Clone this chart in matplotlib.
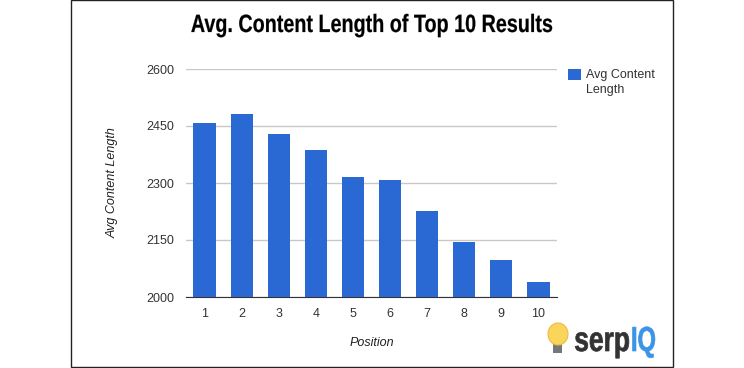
import matplotlib
matplotlib.use('Agg')
import matplotlib.pyplot as plt
from matplotlib.patches import Rectangle, Ellipse
from matplotlib.patheffects import AbstractPathEffect
from matplotlib.transforms import Affine2D

positions = ['1', '2', '3', '4', '5', '6', '7', '8', '9', '10']
avg_length = [2458, 2481, 2430, 2388, 2317, 2309, 2227, 2146, 2098, 2040]
y_ticks = [2000, 2150, 2300, 2450, 2600]

W, H = 744, 368
plt.rcParams['font.family'] = ['Liberation Sans', 'DejaVu Sans']


class Squeeze(AbstractPathEffect):
    """no condensed font installed, so narrow the glyphs around x0 (pixels)"""
    def __init__(self, sx, x0, lw=0):
        super().__init__()
        self.sx, self.x0, self.lw = sx, x0, lw

    def draw_path(self, renderer, gc, tpath, affine, rgbFace=None):
        squeeze = Affine2D().translate(-self.x0, 0).scale(self.sx, 1).translate(self.x0, 0)
        gc0 = renderer.new_gc()
        gc0.copy_properties(gc)
        gc0.set_linewidth(self.lw)
        gc0.set_foreground(rgbFace)
        renderer.draw_path(gc0, tpath, affine + squeeze, rgbFace)
        gc0.restore()


fig = plt.figure(figsize=(W / 100, H / 100), dpi=100)
tf = fig.transFigure

# page frame, kept under the axes
fig.patches.append(Rectangle((71 / W, 1 - 367 / H), 602 / W, 367 / H, transform=tf,
                             fc='white', ec='#222222', lw=1, zorder=-1))

ax = fig.add_axes([186 / W, 1 - 297 / H, 371 / W, 228 / H])
ax.patch.set_visible(False)
ax.bar(range(len(avg_length)), avg_length, width=0.6, color='#2a69d3', zorder=3)
ax.set_xlim(-0.5, 9.5)
ax.set_ylim(2000, 2600)
ax.set_xticks(range(len(positions)))
ax.set_xticklabels(positions)
ax.set_yticks(y_ticks)
ax.tick_params(length=0, labelsize=9, colors='#333333')
ax.tick_params(axis='x', pad=8)
ax.tick_params(axis='y', pad=8.5)
ax.grid(axis='y', color='#c8c8c8', lw=1, zorder=0)
for s in ['top', 'left', 'right']:
    ax.spines[s].set_visible(False)
ax.spines['bottom'].set_color('#333333')
ax.set_xlabel('Position', style='italic', fontsize=9, labelpad=12, color='#222222')
ax.set_ylabel('Avg Content Length', style='italic', fontsize=9, labelpad=19.5, color='#222222')

fig.text(372 / W, 1 - 25 / H, 'Avg. Content Length of Top 10 Results', ha='center', va='center',
         fontsize=18, fontweight='bold', color='black',
         path_effects=[Squeeze(0.79, 372, lw=0.15)])

# legend
fig.patches.append(Rectangle((568 / W, 1 - 80 / H), 13 / W, 11 / H, transform=tf,
                             fc='#2a69d3', ec='none'))
fig.text(586 / W, 1 - 75 / H, 'Avg Content', fontsize=9, va='center', color='#333333')
fig.text(586 / W, 1 - 90 / H, 'Length', fontsize=9, va='center', color='#333333')

# logo
fig.patches.append(Rectangle((553 / W, 1 - 353 / H), 9 / W, 9 / H, transform=tf,
                             fc='#777777', ec='none'))
fig.patches.append(Ellipse((558 / W, 1 - 334 / H), 20 / W, 22 / H, transform=tf,
                           fc='#f9d55c', ec='#eebb44', lw=0.8))
fig.text(630 / W, 1 - 351 / H, 'serp', fontsize=25, fontweight='bold', va='baseline', ha='right',
         color='#333333', path_effects=[Squeeze(0.76, 630, lw=0.5)])
fig.text(631 / W, 1 - 351 / H, 'IQ', fontsize=25, fontweight='bold', va='baseline', ha='left',
         color='#3d94e6', path_effects=[Squeeze(0.68, 631, lw=0.5)])

fig.savefig('out.png', dpi=100)
